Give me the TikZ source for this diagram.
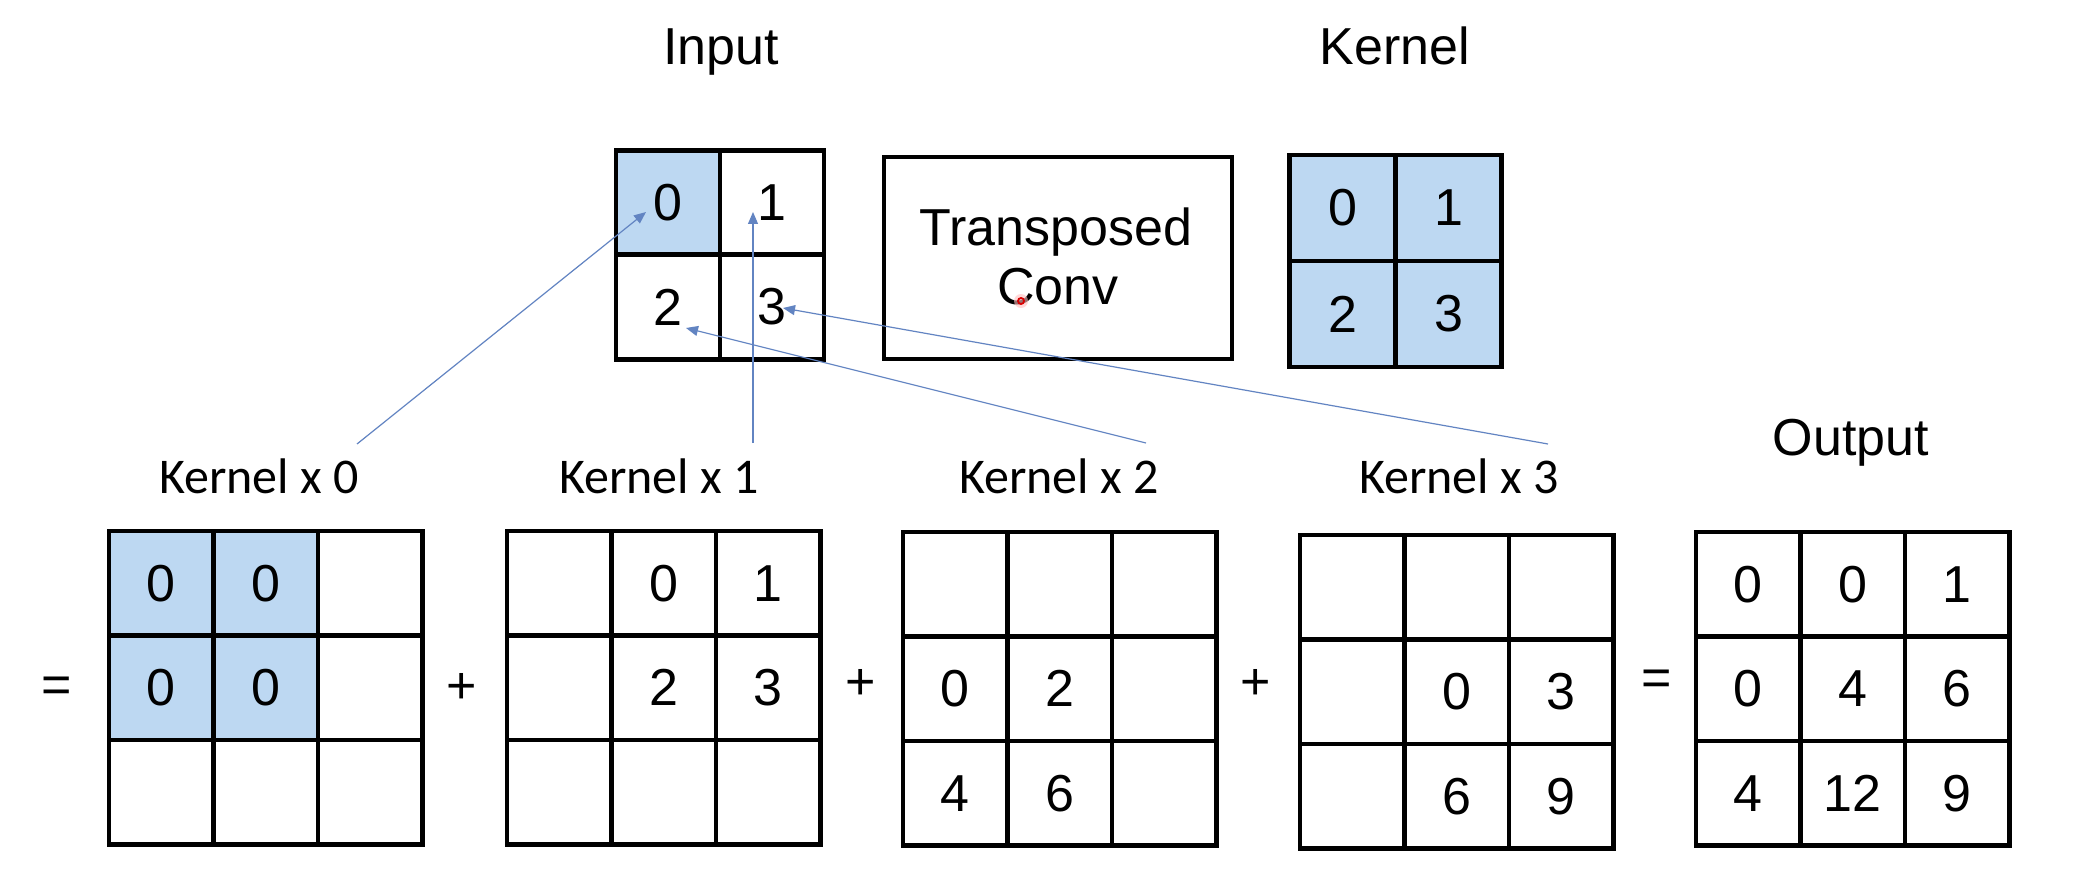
\documentclass[tikz,border=0pt]{standalone}
\usepackage{fontspec}
\setmainfont{Liberation Sans}
\newfontfamily\calib{Carlito}
\usetikzlibrary{arrows.meta,calc}
\definecolor{cfill}{RGB}{189,216,242}
\definecolor{arrblue}{RGB}{98,132,194}
\tikzset{
  cell/.style={draw=black, line width=2.4pt, minimum width=52.25pt, minimum height=52.25pt, inner sep=0pt,
    font=\fontsize{26}{30}\selectfont},
  smallcell/.style={cell, minimum width=52pt, minimum height=52.3pt},
  kcell/.style={cell, fill=cfill, minimum width=53pt, minimum height=53pt},
  title/.style={font=\fontsize{26}{30}\selectfont, inner sep=0pt, anchor=base},
  klabel/.style={font=\calib\fontsize{25}{30}\selectfont, inner sep=0pt, anchor=base},
  op/.style={font=\fontsize{26}{30}\selectfont, inner sep=0pt},
  arr/.style={draw=arrblue, line width=0.6pt, -{Triangle[length=6pt,width=5pt]}, arrblue},
}
\newcommand{\gridnine}[4]{%
  \foreach \v/\f [count=\i from 0] in {#4} {
    \pgfmathtruncatemacro{\rr}{\i/3}
    \pgfmathtruncatemacro{\cc}{\i-3*\rr}
    \node[cell, fill=\f] (#1\rr\cc) at ({#2+52.25+104.5*\cc},{#3+52.25+104.5*\rr}) {\v};
  }%
}
\begin{document}
\begin{tikzpicture}[x=0.5pt,y=-0.5pt]
\useasboundingbox[fill=white] (0,0) rectangle (2086,882);

% titles
\node[title] (tin) at (721,65) {Input};
\node[title] (tker) at (1395,65) {Kernel};
\node[title] (tout) at (1851,455) {Output};

% input grid
\node[smallcell, fill=cfill] (in00) at (668,202.5) {0};
\node[smallcell] (in01) at (772,202.5) {1};
\node[smallcell] (in10) at (668,307) {2};
\node[smallcell] (in11) at (772,307) {3};

% transposed conv box
\node[draw=black, line width=2.4pt, minimum width=174pt, minimum height=101pt] (tc) at (1058,258) {};
\node[title] (tct) at (1056,245) {Transposed};
\node[title] (tcc) at (1058,304) {Conv};
% cursor mark
\fill[red!25, opacity=0.6] (1021,301) circle (7);
\draw[red!85!black, line width=0.9pt] (1021,301) circle (3);

% kernel grid
\node[kcell] (k00) at (1342.5,208) {0};
\node[kcell] (k01) at (1448.5,208) {1};
\node[kcell] (k10) at (1342.5,314) {2};
\node[kcell] (k11) at (1448.5,314) {3};

% kernel x labels
\node[klabel] (l0) at (259,493) {Kernel x 0};
\node[klabel] (l1) at (659,493) {Kernel x 1};
\node[klabel] (l2) at (1059,493) {Kernel x 2};
\node[klabel] (l3) at (1459,493) {Kernel x 3};

% bottom grids
\gridnine{ga}{109}{531}{0/cfill,0/cfill,/none,0/cfill,0/cfill,/none,/none,/none,/none}
\gridnine{gb}{507}{531}{/none,0/none,1/none,/none,2/none,3/none,/none,/none,/none}
\gridnine{gc}{903}{532}{/none,/none,/none,0/none,2/none,/none,4/none,6/none,/none}
\gridnine{gd}{1300}{535}{/none,/none,/none,/none,0/none,3/none,/none,6/none,9/none}
\gridnine{go}{1696}{532}{0/none,0/none,1/none,0/none,4/none,6/none,4/none,12/none,9/none}

% operators
\node[op] (eq1) at (57,690) {=};
\node[op] (p1) at (462,688) {+};
\node[op] (p2) at (861,684) {+};
\node[op] (p3) at (1256,684) {+};
\node[op] (eq2) at (1657,683) {=};

% connectors
\coordinate (e0) at (357,444);
\coordinate (e1) at (753,443);
\coordinate (e2) at (1146,443);
\coordinate (e3) at (1548,444);
\draw[arr] (e0) -- ($(in00.center)+(-22,9.5)$);
\draw[arr] (e1) -- ($(in01.center)+(-19,9.5)$);
\draw[arr] (e2) -- ($(in10.center)+(18,21)$);
\draw[arr] (e3) -- ($(in11.center)+(11,1)$);
\end{tikzpicture}
\end{document}
